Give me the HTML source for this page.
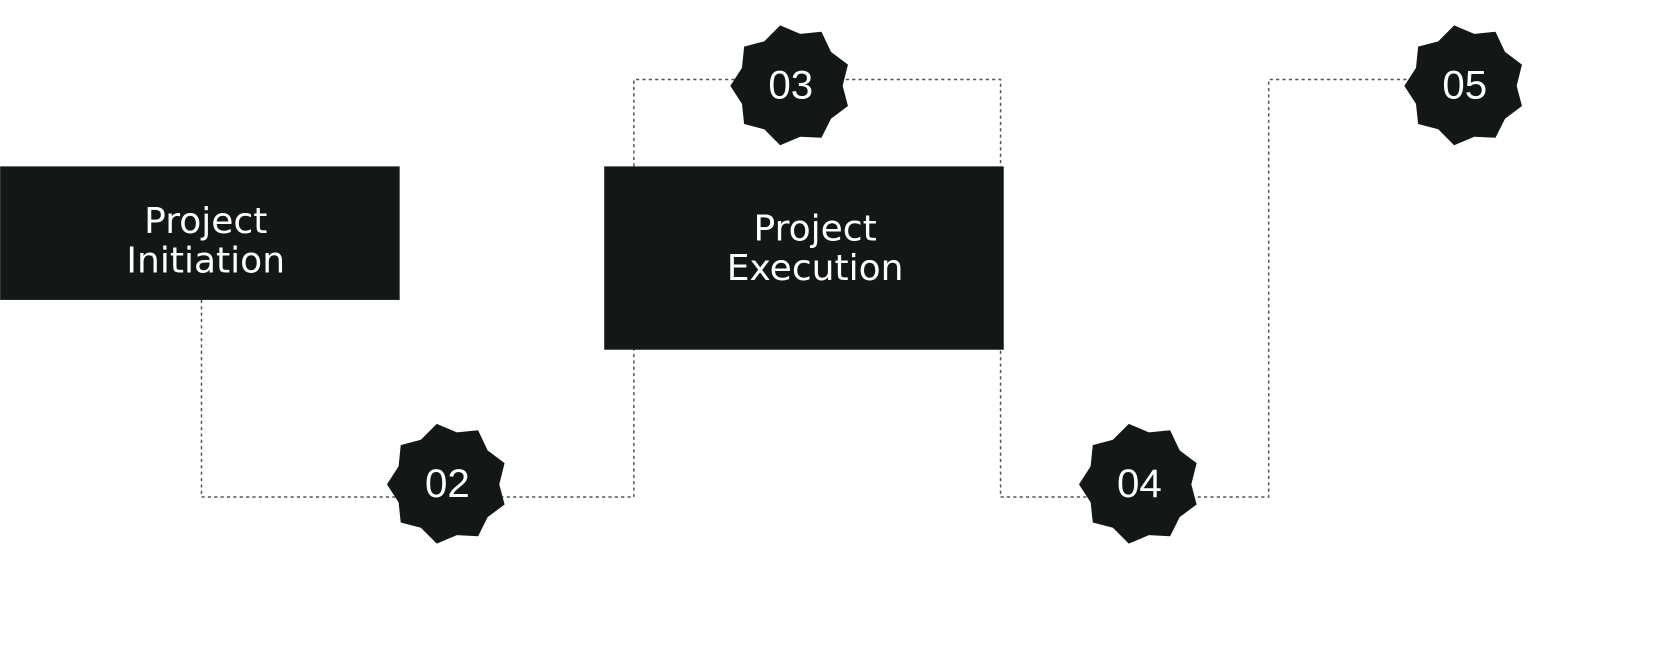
<!DOCTYPE html>
<html><head><meta charset="utf-8"><style>
html,body{margin:0;padding:0;background:#fff;}
svg{display:block;}
</style></head><body>
<svg width="1662" height="656" viewBox="0 0 1568 619" xmlns="http://www.w3.org/2000/svg">
<defs>
<polygon id="st" points="-9,-56 10,-48 30,-50 39,-31 55,-19 50,1 55,20 39,32 30,50 10,49 -9,57 -24,42 -43,37 -45,18 -56,1 -45,-16 -43,-36 -24,-41" fill="#131817"/>
</defs>
<rect width="1568" height="619" fill="#fff"/>
<g fill="none" stroke="#555" stroke-width="1.4" stroke-dasharray="3,3">
<polyline points="190,283 190,469 598,469 598,75 944,75 944,469 1197,469 1197,75 1335,75"/>
</g>
<rect x="0" y="157" width="377" height="126" fill="#131817"/>
<rect x="570" y="157" width="377" height="173" fill="#131817"/>
<g font-family="'DejaVu Sans','Liberation Sans',sans-serif" font-size="34" fill="#fff" text-anchor="middle">
<text x="194" y="220">Project</text>
<text x="194" y="257">Initiation</text>
<text x="769" y="227">Project</text>
<text x="769" y="264">Execution</text>
</g>
<use href="#st" x="421" y="456"/>
<use href="#st" x="745" y="80"/>
<use href="#st" x="1074" y="456"/>
<use href="#st" x="1381" y="80"/>
<g font-family="'Liberation Sans',sans-serif" font-size="38" fill="#fff" text-anchor="middle">
<text x="422" y="469">02</text>
<text x="746" y="93">03</text>
<text x="1075" y="469">04</text>
<text x="1382" y="93">05</text>
</g>
</svg>
</body></html>
